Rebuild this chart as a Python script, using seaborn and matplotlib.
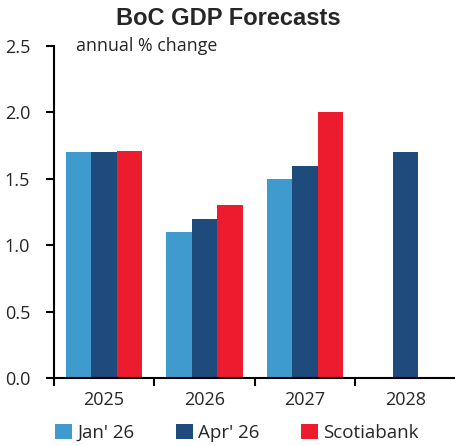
import numpy as np
import pandas as pd
import seaborn as sns
import matplotlib.pyplot as plt

years = ["2025", "2026", "2027", "2028"]
series = ["Jan' 26", "Apr' 26", "Scotiabank"]
jan_26 = [1.7, 1.1, 1.5, np.nan]
apr_26 = [1.7, 1.2, 1.6, 1.7]
scotia = [1.71, 1.3, 2.0, np.nan]
colors = ["#3f9acd", "#1f4a7c", "#ec1c2e"]

df = pd.DataFrame({
    "year": years * 3,
    "series": [s for s in series for _ in years],
    "value": jan_26 + apr_26 + scotia,
})

sns.set_theme(style="white")
plt.rcParams["font.family"] = ["Open Sans", "DejaVu Sans"]

fig = plt.figure(figsize=(4.56, 4.46), dpi=100)
ax = fig.add_axes([0.118, 0.152, 0.882, 0.745])

sns.barplot(data=df, x="year", y="value", hue="series", palette=colors,
            width=0.76, saturation=1, linewidth=0, ax=ax, legend=True)

ax.set_ylim(0, 2.5)
ax.set_xlim(-0.5, 3.5)
ax.set_yticks([0, 0.5, 1.0, 1.5, 2.0, 2.5])
ax.set_yticklabels(["0.0", "0.5", "1.0", "1.5", "2.0", "2.5"])
ax.set_xticks([-0.5, 0.5, 1.5, 2.5])
ax.set_xticklabels([])
ax.set_xticks(range(4), minor=True)
ax.set_xticklabels(years, minor=True)
ax.tick_params(axis="x", which="major", direction="out", length=6, width=1.5,
               color="black", bottom=True)
ax.tick_params(axis="x", which="minor", length=0, labelsize=13, pad=9)
ax.tick_params(axis="y", direction="out", length=6, width=1.5, color="black",
               left=True, labelsize=13, pad=11)
ax.set_xlabel("")
ax.set_ylabel("")
sns.despine(ax=ax)
for s in ["left", "bottom"]:
    ax.spines[s].set_color("black")
    ax.spines[s].set_linewidth(1.5)

ax.text(0.055, 1.0, "annual % change", transform=ax.transAxes,
        fontsize=12.8, va="center", ha="left")
fig.suptitle("BoC GDP Forecasts", x=0.5, y=0.985, fontsize=17,
             fontweight="bold", family=["Liberation Sans", "DejaVu Sans"])

handles, labels = ax.get_legend_handles_labels()
ax.legend(handles, labels, loc="center", bbox_to_anchor=(0.455, -0.165),
          ncol=3, frameon=False, fontsize=13.5, handlelength=0.9,
          handleheight=0.9, handletextpad=0.3, columnspacing=2.2)

fig.savefig("out.png", dpi=100)
